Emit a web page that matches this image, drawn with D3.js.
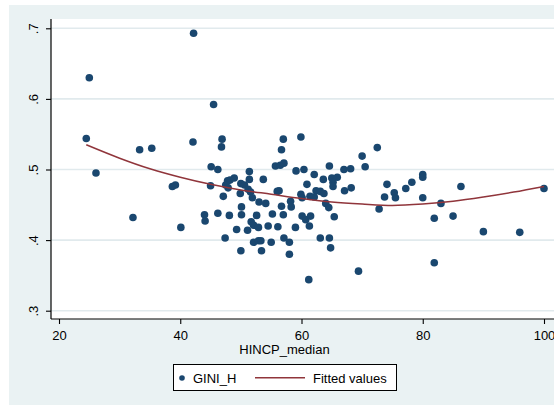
<!DOCTYPE html>
<html>
<head>
<meta charset="utf-8">
<script src="https://cdn.jsdelivr.net/npm/d3@7"></script>
<style>
  html, body { margin: 0; padding: 0; background: #ffffff; }
  svg { display: block; font-family: "Liberation Sans", Arial, Helvetica, sans-serif; }
</style>
</head>
<body>
<svg id="chart" width="554" height="406"></svg>
<script>
// Household income median (thousands) vs. household Gini index
const hincp = [
  24.5, 25.0, 26.1, 32.2, 33.3, 35.3, 38.7, 39.2, 40.1, 42.2, 42.1,
  45.5, 46.9, 46.8, 57.0, 59.9, 56.7, 70.0, 72.5,
  45.1, 46.2, 51.4, 55.7, 56.5, 57.1, 59.1, 60.4, 62.1, 64.6, 67.0, 68.1, 70.5,
  45.0, 47.8, 48.2, 47.5, 47.9, 48.9, 50.0, 50.6, 51.4, 53.7,
  51.2, 51.6, 49.9, 47.1, 51.9, 53.0, 54.1, 56.0, 56.3, 58.2,
  58.3, 56.7, 59.9, 60.1, 50.1, 60.9, 63.6, 65.0, 65.9, 65.2,
  65.2, 67.1, 68.2, 62.4, 63.1, 63.7, 61.4, 62.1, 74.1, 77.2,
  78.2, 80.0, 80.0, 73.7, 75.3, 75.5, 80.0, 72.8, 64.0, 64.5,
  86.3, 83.0, 100.0,
  44.0, 44.1, 46.2, 48.1, 50.1, 52.6, 55.2, 57.0, 60.1, 60.7, 61.5, 61.3, 65.4,
  51.7, 52.1, 49.3, 51.1, 52.9, 54.5, 56.1, 59.0,
  47.4, 52.1, 52.9, 53.3, 55.0, 57.1, 58.0,
  50.0, 53.4, 58.0, 63.1, 64.6, 64.8, 61.2, 69.4,
  81.9, 85.0, 90.0, 96.0, 81.9
];
const giniH = [
  0.544, 0.630, 0.495, 0.432, 0.528, 0.530, 0.476, 0.478, 0.418, 0.693, 0.539,
  0.592, 0.543, 0.532, 0.543, 0.546, 0.528, 0.519, 0.531,
  0.504, 0.500, 0.497, 0.505, 0.506, 0.509, 0.498, 0.500, 0.493, 0.505, 0.500, 0.501, 0.504,
  0.477, 0.484, 0.485, 0.478, 0.474, 0.488, 0.480, 0.478, 0.486, 0.486,
  0.472, 0.468, 0.466, 0.462, 0.460, 0.454, 0.452, 0.469, 0.470, 0.455,
  0.447, 0.448, 0.465, 0.460, 0.447, 0.479, 0.486, 0.488, 0.489, 0.482,
  0.476, 0.470, 0.474, 0.470, 0.469, 0.466, 0.462, 0.461, 0.479, 0.473,
  0.482, 0.493, 0.489, 0.461, 0.467, 0.460, 0.460, 0.444, 0.452, 0.446,
  0.476, 0.452, 0.473,
  0.436, 0.427, 0.438, 0.435, 0.436, 0.435, 0.437, 0.436, 0.434, 0.429, 0.434, 0.420, 0.433,
  0.426, 0.421, 0.415, 0.414, 0.418, 0.420, 0.419, 0.418,
  0.403, 0.397, 0.399, 0.399, 0.397, 0.403, 0.397,
  0.385, 0.385, 0.380, 0.403, 0.403, 0.389, 0.344, 0.356,
  0.431, 0.434, 0.412, 0.411, 0.368
];

// Quadratic fitted values
const fitX = [24.5, 30, 35, 40, 45, 50, 55, 60, 65, 70, 75, 80, 85, 90, 95, 100];
const fitY = [0.535, 0.516, 0.501, 0.489, 0.479, 0.471, 0.465, 0.459, 0.454, 0.451, 0.449, 0.451, 0.455, 0.461, 0.468, 0.476];

const xTicks = [20, 40, 60, 80, 100];
const xTickLabels = ["20", "40", "60", "80", "100"];
const yTicks = [0.3, 0.4, 0.5, 0.6, 0.7];
const yTickLabels = [".3", ".4", ".5", ".6", ".7"];

const xTitle = "HINCP_median";
const legendLabels = ["GINI_H", "Fitted values"];

const navy = "#1a476f";
const maroon = "#90353b";
const regionBg = "#eaf2f3";
const gridCol = "#e1eaed";

const svg = d3.select("#chart");

// graph region and plot region
svg.append("rect").attr("x", 9).attr("y", 5).attr("width", 560).attr("height", 400).attr("fill", regionBg);
const plotLeft = 51, plotTop = 19, plotBottom = 319, plotRight = 570;
svg.append("rect").attr("x", plotLeft).attr("y", plotTop)
  .attr("width", plotRight - plotLeft).attr("height", plotBottom - plotTop).attr("fill", "#ffffff");

const x = d3.scaleLinear().domain([20, 100]).range([59, 544]);
const y = d3.scaleLinear().domain([0.3, 0.7]).range([310.7, 28.3]);

// horizontal grid lines
svg.append("g").selectAll("line").data(yTicks).join("line")
  .attr("x1", plotLeft).attr("x2", plotRight)
  .attr("y1", d => y(d)).attr("y2", d => y(d))
  .attr("stroke", gridCol).attr("stroke-width", 1.6);

// points
svg.append("g").selectAll("circle").data(hincp.map((v, i) => [v, giniH[i]])).join("circle")
  .attr("cx", d => x(d[0])).attr("cy", d => y(d[1])).attr("r", 3.8)
  .attr("fill", navy);

// fitted line
const line = d3.line().x(d => x(d[0])).y(d => y(d[1])).curve(d3.curveCatmullRom);
svg.append("path").datum(fitX.map((v, i) => [v, fitY[i]]))
  .attr("d", line).attr("fill", "none").attr("stroke", maroon).attr("stroke-width", 1.5);

// y axis
const yAxis = d3.axisLeft(y).tickValues(yTicks).tickSize(5).tickFormat((d, i) => yTickLabels[i]);
const gy = svg.append("g").attr("transform", `translate(${plotLeft},0)`).call(yAxis);
gy.select(".domain").attr("d", `M0,${plotTop}V${plotBottom}`).attr("stroke", "#000").attr("stroke-width", 1.2);
gy.selectAll(".tick line").attr("stroke", "#000").attr("stroke-width", 1.1);
gy.selectAll(".tick text")
  .attr("x", null).attr("dy", null)
  .attr("transform", "translate(-13,0) rotate(-90)")
  .attr("text-anchor", "middle")
  .attr("font-size", 13).attr("font-family", "Liberation Sans, Arial, sans-serif").attr("fill", "#000");

// x axis
const xAxis = d3.axisBottom(x).tickValues(xTicks).tickSize(5).tickFormat((d, i) => xTickLabels[i]);
const gx = svg.append("g").attr("transform", `translate(0,${plotBottom})`).call(xAxis);
gx.select(".domain").attr("d", `M${plotLeft},0H${plotRight}`).attr("stroke", "#000").attr("stroke-width", 1.2);
gx.selectAll(".tick line").attr("stroke", "#000").attr("stroke-width", 1.1);
gx.selectAll(".tick text")
  .attr("y", 20.5).attr("dy", null)
  .attr("font-size", 13).attr("font-family", "Liberation Sans, Arial, sans-serif").attr("fill", "#000");

// axis title
svg.append("text").attr("x", 284.5).attr("y", 353.5).attr("text-anchor", "middle")
  .attr("font-size", 13).attr("fill", "#000").text(xTitle);

// legend
const lg = svg.append("g");
lg.append("rect").attr("x", 173.5).attr("y", 364.5).attr("width", 223).attr("height", 26)
  .attr("fill", "#fff").attr("stroke", "#000").attr("stroke-width", 1);
lg.append("circle").attr("cx", 182).attr("cy", 378).attr("r", 2.8).attr("fill", navy);
lg.append("text").attr("x", 193).attr("y", 383).attr("font-size", 13).attr("fill", "#000").text(legendLabels[0]);
lg.append("line").attr("x1", 255).attr("x2", 305).attr("y1", 377.7).attr("y2", 377.7)
  .attr("stroke", maroon).attr("stroke-width", 1.5);
lg.append("text").attr("x", 313).attr("y", 383).attr("font-size", 13).attr("fill", "#000").text(legendLabels[1]);
</script>
</body>
</html>
